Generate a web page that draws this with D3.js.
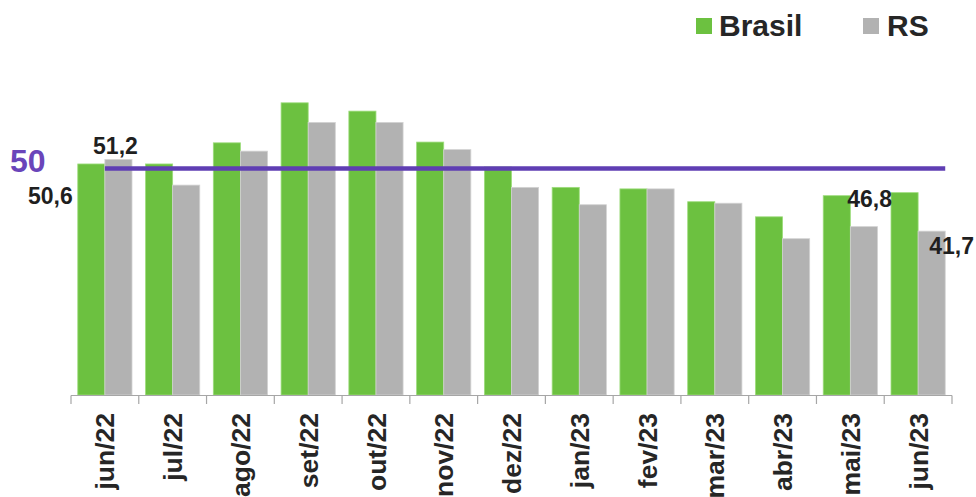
<!DOCTYPE html>
<html lang="pt-BR">
<head>
<meta charset="utf-8">
<script src="https://cdn.jsdelivr.net/npm/d3@7"></script>
<style>
  html, body { margin: 0; padding: 0; background: #fff; }
  svg { display: block; font-family: "Liberation Sans", Arial, sans-serif; }
</style>
</head>
<body>
<svg id="chart" width="976" height="497"></svg>
<script>
// Monthly index, Brasil vs RS
const categories = ["jun/22", "jul/22", "ago/22", "set/22", "out/22", "nov/22", "dez/22",
                    "jan/23", "fev/23", "mar/23", "abr/23", "mai/23", "jun/23"];
const brasil = [50.6, 50.6, 53.4, 58.7, 57.6, 53.5, 50.2, 47.5, 47.3, 45.6, 43.6, 46.4, 46.8];
const rs     = [51.2, 47.8, 52.3, 56.1, 56.1, 52.5, 47.5, 45.2, 47.3, 45.4, 40.7, 42.3, 41.7];
const seriesNames = ["Brasil", "RS"];
const referenceValue = 50;

const colors = { Brasil: "#6cc140", RS: "#b2b2b2" };
const strokes = { Brasil: "#9ddc7c", RS: "#d2d2d2" };

const svg = d3.select("#chart");

const x = d3.scaleBand().domain(categories).range([71, 952]).paddingInner(0).paddingOuter(0);
const xSub = d3.scaleBand().domain(seriesNames).range([0, x.bandwidth()]).paddingInner(0).paddingOuter(0.25);
const y = d3.scaleLinear().domain([20, 60]).range([395, 93]);

const rows = categories.map((c, i) => ({ cat: c, Brasil: brasil[i], RS: rs[i] }));
const fmt = v => d3.format(".1f")(v).replace(".", ",");

// bars
const groups = svg.append("g").selectAll("g")
  .data(rows).join("g")
  .attr("transform", d => `translate(${x(d.cat)},0)`);

groups.selectAll("rect")
  .data(d => seriesNames.map(k => ({ key: k, value: d[k] })))
  .join("rect")
  .attr("x", d => xSub(d.key))
  .attr("width", xSub.bandwidth())
  .attr("y", d => y(d.value))
  .attr("height", d => y.range()[0] - y(d.value))
  .attr("fill", d => colors[d.key])
  .attr("stroke", d => strokes[d.key])
  .attr("stroke-width", 0.8);

// x axis
const xAxis = svg.append("g")
  .attr("transform", `translate(0,${y.range()[0]})`);
xAxis.append("line")
  .attr("x1", x.range()[0]).attr("x2", x.range()[1])
  .attr("y1", 0.5).attr("y2", 0.5)
  .attr("stroke", "#a6a6a6").attr("stroke-width", 1.2);
const tickXs = categories.map(c => x(c)).concat([x.range()[1]]);
xAxis.selectAll(".tick")
  .data(tickXs).join("line")
  .attr("x1", d => d).attr("x2", d => d)
  .attr("y1", 0.5).attr("y2", 9)
  .attr("stroke", "#a6a6a6").attr("stroke-width", 1.2);
xAxis.selectAll("text")
  .data(categories).join("text")
  .attr("transform", d => `translate(${x(d) + x.bandwidth() / 2},18) rotate(-90)`)
  .attr("text-anchor", "end")
  .attr("dy", "0.36em")
  .attr("font-size", 26.5)
  .attr("font-weight", "bold")
  .attr("fill", "#262626")
  .text(d => d);

// reference line at 50
const first = categories[0], last = categories[categories.length - 1];
svg.append("line")
  .attr("x1", x(first) + x.bandwidth() / 2)
  .attr("x2", x(last) + xSub("RS") + xSub.bandwidth())
  .attr("y1", y(referenceValue)).attr("y2", y(referenceValue))
  .attr("stroke", "#5f3eb3").attr("stroke-width", 4.5);
svg.append("text")
  .attr("x", 10).attr("y", y(referenceValue) + 3)
  .attr("font-size", 32).attr("font-weight", "bold")
  .attr("fill", "#6a45ba")
  .text(String(referenceValue));

// value labels: first and last months
const labelStyle = sel => sel.attr("font-size", 23).attr("font-weight", "bold").attr("fill", "#1f1f1f");
const i0 = 0, iN = categories.length - 1;

svg.append("text").call(labelStyle)
  .attr("x", x(first) + xSub("Brasil") - 5)
  .attr("y", y(brasil[i0]) + 40)
  .attr("text-anchor", "end")
  .text(fmt(brasil[i0]));

svg.append("text").call(labelStyle)
  .attr("x", x(first) + xSub("RS") + xSub.bandwidth() / 2 - 3)
  .attr("y", y(rs[i0]) - 5)
  .attr("text-anchor", "middle")
  .text(fmt(rs[i0]));

svg.append("text").call(labelStyle)
  .attr("x", x(last) + xSub("Brasil") + 1)
  .attr("y", y(brasil[iN]) + 14)
  .attr("text-anchor", "end")
  .text(fmt(brasil[iN]));

svg.append("text").call(labelStyle)
  .attr("x", x(last) + xSub("RS") + xSub.bandwidth() - 16)
  .attr("y", y(rs[iN]) + 23)
  .attr("text-anchor", "start")
  .text(fmt(rs[iN]));

// legend
const legendItems = [
  { key: "Brasil", sx: 696, tx: 719 },
  { key: "RS", sx: 863, tx: 887 }
];
const legend = svg.append("g");
legend.selectAll("rect").data(legendItems).join("rect")
  .attr("x", d => d.sx).attr("y", 18)
  .attr("width", 16).attr("height", 16)
  .attr("fill", d => colors[d.key]);
legend.selectAll("text").data(legendItems).join("text")
  .attr("x", d => d.tx).attr("y", 35.5)
  .attr("font-size", 30).attr("font-weight", "bold")
  .attr("fill", "#262626")
  .text(d => d.key);
</script>
</body>
</html>
